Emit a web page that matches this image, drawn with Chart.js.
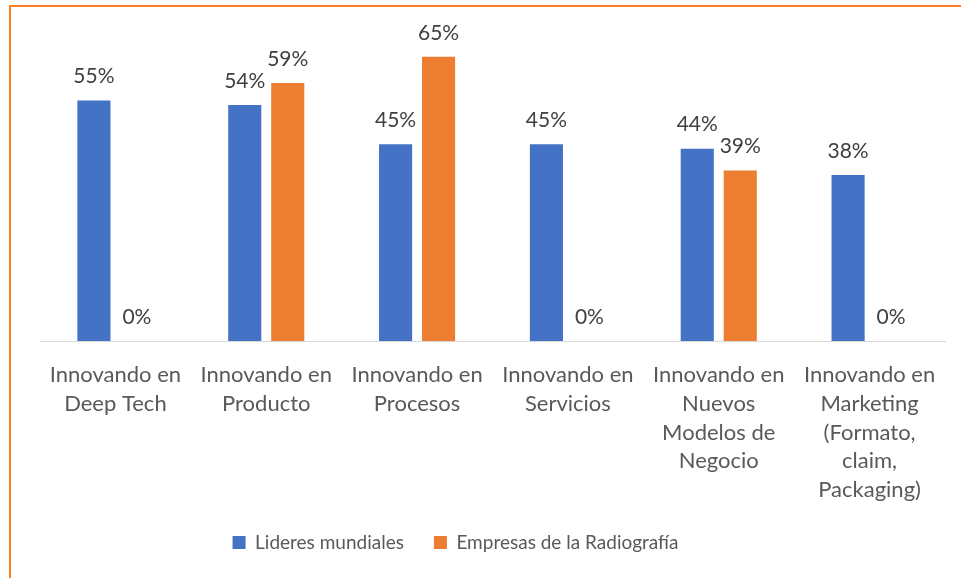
<!DOCTYPE html>
<html>
<head>
<meta charset="utf-8">
<script src="https://cdn.jsdelivr.net/npm/chart.js@4/dist/chart.umd.min.js"></script>
<style>
  html, body { margin: 0; padding: 0; background: #fff; }
  #wrap { position: relative; width: 961px; height: 578px; }
  #frame {
    position: absolute; left: 9px; top: 5px; right: 0; bottom: 0;
    border-left: 2px solid #FF7F27; border-top: 2px solid #FF7F27;
  }
  canvas { position: absolute; left: 0; top: 0; }
</style>
</head>
<body>
<div id="wrap">
  <div id="frame"></div>
  <canvas id="chart" width="961" height="578"></canvas>
</div>
<script>
const categories = [
  ["Innovando en", "Deep Tech"],
  ["Innovando en", "Producto"],
  ["Innovando en", "Procesos"],
  ["Innovando en", "Servicios"],
  ["Innovando en", "Nuevos", "Modelos de", "Negocio"],
  ["Innovando en", "Marketing", "(Formato,", "claim,", "Packaging)"],
]
const lideres = [55, 54, 45, 45, 44, 38]
const radiografia = [0, 59, 65, 0, 39, 0]
const seriesNames = ["Lideres mundiales", "Empresas de la Radiografía"]

const FONT = "Lato, 'Open Sans', sans-serif"
const AXIS_SHRINK = 13

// labels above each bar, like Excel data labels
const barLabels = {
  id: "barLabels",
  afterDatasetsDraw(chart) {
    const ctx = chart.ctx
    ctx.save()
    ctx.font = "21px " + FONT
    ctx.fillStyle = "#404040"
    ctx.textAlign = "center"
    ctx.textBaseline = "middle"
    chart.data.datasets.forEach((ds, i) => {
      chart.getDatasetMeta(i).data.forEach((bar, j) => {
        ctx.fillText(ds.data[j] + "%", bar.x, bar.y - 24)
      })
    })
    ctx.restore()
  },
}

// x labels may run into the legend band, and the legend sits a bit left (as in Excel)
const layoutTweaks = {
  id: "layoutTweaks",
  afterLayout(chart) {
    chart.scales.x.bottom = chart.height
    chart.legend.left -= 37
    chart.legend.right -= 37
  },
}

new Chart(document.getElementById("chart"), {
  type: "bar",
  data: {
    labels: categories,
    datasets: [
      {
        label: seriesNames[0],
        data: lideres,
        backgroundColor: "#4472C4",
        categoryPercentage: 0.57,
        barPercentage: 0.77,
      },
      {
        label: seriesNames[1],
        data: radiografia,
        backgroundColor: "#ED7D31",
        categoryPercentage: 0.57,
        barPercentage: 0.77,
      },
    ],
  },
  options: {
    responsive: false,
    animation: false,
    layout: { padding: { left: 40, right: 16, top: 35, bottom: 16 } },
    plugins: {
      legend: {
        position: "bottom",
        labels: {
          color: "#595959",
          font: { family: FONT, size: 19 },
          boxWidth: 13,
          boxHeight: 13,
          padding: 30,
        },
      },
      tooltip: { enabled: false },
    },
    scales: {
      x: {
        grid: { display: false },
        border: { display: true, color: "#D9D9D9", width: 1 },
        ticks: {
          color: "#595959",
          font: { family: FONT, size: 22, lineHeight: 1.3 },
          maxRotation: 0,
          autoSkip: false,
          padding: 12,
        },
        afterFit(scale) {
          scale.height -= AXIS_SHRINK
        },
      },
      y: {
        display: false,
        min: 0,
        max: 70,
      },
    },
  },
  plugins: [barLabels, layoutTweaks],
})
</script>
</body>
</html>
